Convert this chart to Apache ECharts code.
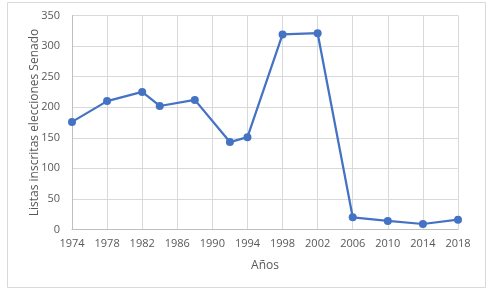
<!DOCTYPE html>
<html><head><meta charset="utf-8">
<script src="https://cdn.jsdelivr.net/npm/echarts@6/dist/echarts.min.js"></script>
<style>html,body{margin:0;padding:0;background:#fff}#c{width:490px;height:289px}</style>
</head><body><div id="c"></div>
<script>
const years = [1974, 1978, 1982, 1984, 1988, 1992, 1994, 1998, 2002, 2006, 2010, 2014, 2018];
const listas = [176, 210, 225, 202, 212, 143, 151, 319, 321, 20, 14, 9, 16];
const xTicks = [1974, 1978, 1982, 1986, 1990, 1994, 1998, 2002, 2006, 2010, 2014, 2018];
const yTicks = [0, 50, 100, 150, 200, 250, 300, 350];

const chart = echarts.init(document.getElementById('c'));
const txt = '#595959';
chart.setOption({
  animation: false,
  graphic: [{type:'rect', shape:{x:7.5,y:2.5,width:478,height:285}, style:{fill:'none', stroke:'#d9d9d9', lineWidth:1}, silent:true}],
  grid: {left: 72, right: 32, top: 15.5, bottom: 59.5},
  xAxis: {
    type: 'value', min: xTicks[0], max: xTicks[xTicks.length-1], interval: 4,
    name: 'Años', nameLocation: 'middle', nameGap: 30, nameMoveOverlap: false,
    nameTextStyle: {color: txt, fontSize: 12, fontFamily: 'Open Sans'},
    axisLine: {show: true, lineStyle: {color: '#bfbfbf'}},
    axisTick: {show: false},
    axisLabel: {color: txt, fontSize: 11, fontFamily: 'Open Sans', margin: 9, formatter: v => String(v)},
    splitLine: {show: true, lineStyle: {color: '#d9d9d9'}}
  },
  yAxis: {
    type: 'value', min: yTicks[0], max: yTicks[yTicks.length-1], interval: 50,
    name: 'Listas inscritas elecciones Senado', nameLocation: 'middle', nameGap: 31, nameMoveOverlap: false,
    nameTextStyle: {color: txt, fontSize: 12, fontFamily: 'Open Sans'},
    axisLine: {show: true, lineStyle: {color: '#bfbfbf'}},
    axisTick: {show: false},
    axisLabel: {color: txt, fontSize: 11, fontFamily: 'Open Sans', margin: 12},
    splitLine: {show: true, lineStyle: {color: '#d9d9d9'}}
  },
  series: [{
    type: 'line',
    data: years.map((y, i) => [y, listas[i]]),
    symbol: 'circle', symbolSize: 8,
    lineStyle: {color: '#4472C4', width: 2.25},
    itemStyle: {color: '#4472C4'}
  }]
});
</script></body></html>
